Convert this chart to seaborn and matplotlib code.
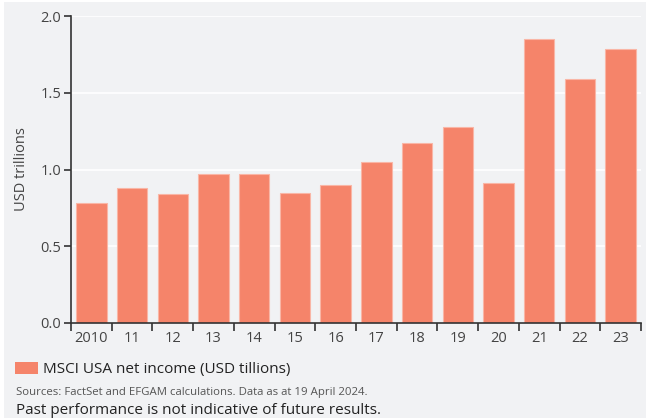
import matplotlib
matplotlib.use("Agg")
import matplotlib.pyplot as plt
import seaborn as sns
import pandas as pd
from matplotlib.patches import Patch, Rectangle

years = ["2010", "11", "12", "13", "14", "15", "16", "17", "18", "19", "20", "21", "22", "23"]
net_income = [0.78, 0.88, 0.84, 0.97, 0.97, 0.845, 0.90, 1.05, 1.175, 1.28, 0.91, 1.85, 1.59, 1.785]
series_label = "MSCI USA net income (USD tillions)"
y_ticks = [0.0, 0.5, 1.0, 1.5, 2.0]

sns.set_theme(style="white")
plt.rcParams['font.family'] = ['Open Sans', 'DejaVu Sans']

BG = "#f1f2f4"
BAR = "#f5846a"
TXT = "#444444"

df = pd.DataFrame({"year": years, "value": net_income})

fig = plt.figure(figsize=(6.46, 4.18), dpi=100, facecolor="white")
fig.patches.append(Rectangle((4/646, 0), 1 - 4/646, 1 - 2/418, transform=fig.transFigure,
                             facecolor=BG, edgecolor="none", zorder=-10))
ax = fig.add_axes([71/646, 1-323/418, (641-71)/646, (323-16)/418])
ax.set_facecolor(BG)

sns.barplot(data=df, x="year", y="value", ax=ax, color=BAR, width=0.75,
            edgecolor="#f9b6a6", linewidth=0.8, saturation=1)

ax.set_ylim(0, 2.0)
ax.set_xlim(-0.5, len(years) - 0.5)
ax.set_yticks(y_ticks)
ax.set_yticklabels([f"{v:.1f}" for v in y_ticks])
ax.yaxis.grid(True, color="white", linewidth=1.2)
ax.set_axisbelow(True)

ax.set_xticks(range(len(years)))
ax.set_xticklabels(years)
ax.set_xticks([i - 0.5 for i in range(len(years) + 1)], minor=True)
ax.tick_params(axis="x", which="major", length=0, pad=6, labelsize=10.5, labelcolor=TXT, bottom=True)
ax.tick_params(axis="x", which="minor", length=6, width=1.2, color="#333333", direction="out", bottom=True)
ax.tick_params(axis="y", which="major", length=5, width=1.2, color="#333333", labelsize=10.5,
               labelcolor=TXT, pad=2, left=True)

for s in ["top", "right"]:
    ax.spines[s].set_visible(False)
for s in ["left", "bottom"]:
    ax.spines[s].set_color("#333333")
    ax.spines[s].set_linewidth(1.2)

ax.set_xlabel("")
ax.set_ylabel("USD trillions", fontsize=10.5, color=TXT, labelpad=8)

handle = Patch(facecolor=BAR, edgecolor="none")
fig.legend([handle], [series_label], loc="upper left", bbox_to_anchor=(15/646, 1-362/418),
           frameon=False, fontsize=11, handlelength=1.5, handleheight=0.8,
           handletextpad=0.35, borderpad=0, borderaxespad=0, labelcolor="#222222")

fig.text(16/646, 1-393/418, "Sources: FactSet and EFGAM calculations. Data as at 19 April 2024.",
         fontsize=8.2, color="#555555", va="center", ha="left")
fig.text(16/646, 1-410/418, "Past performance is not indicative of future results.",
         fontsize=11, color="#222222", va="center", ha="left")

fig.savefig("out.png", dpi=100, facecolor="white")
